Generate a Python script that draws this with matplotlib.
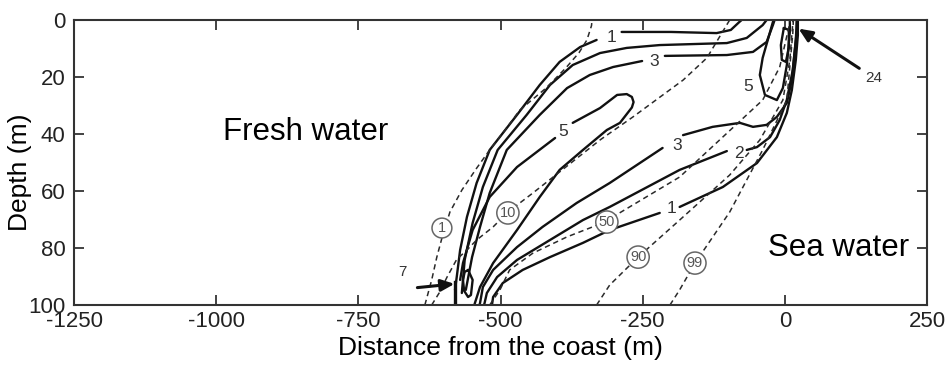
import matplotlib
matplotlib.use('Agg')
import matplotlib.pyplot as plt

plt.rcParams['font.family'] = ['Liberation Sans', 'DejaVu Sans']
plt.rcParams['axes.unicode_minus'] = False

# solid contours: distance (m), depth (m); split where the level label sits
a_left_x = [-580, -577, -571, -559, -542, -519, -471, -431, -396, -360, -331]
a_left_d = [94.7, 90.2, 80.7, 69.1, 57.2, 45.6, 33.3, 22.8, 14.7, 9.5, 7.0]
a_right_x = [-287, -200, -120, -95, -80, -76]
a_right_d = [4.2, 4.2, 4.6, 3.5, 0.7, 0]

b_x = [-568, -563, -549, -531, -505, -454, -413, -373, -325, -278, -220, -102, -67, -39, -32]
b_d = [95.8, 84.2, 71.2, 58.6, 45.6, 33.3, 22.8, 15.8, 11.6, 9.8, 8.8, 8.1, 6.3, 1.8, 0]

c_left_x = [-561, -550, -536, -519, -489, -431, -383, -343, -302, -251]
c_left_d = [94.7, 83.2, 72.6, 60.7, 45.6, 33.3, 23.9, 19.3, 16.5, 14.4]
c_right_x = [-211, -102, -56, -32, -21, -18]
c_right_d = [12.6, 12.3, 11.2, 7.7, 1.8, 0]

d_left_x = [-571, -566, -549, -519, -471, -404]
d_left_d = [91.2, 85.3, 73.7, 62.1, 51.6, 41.4]
d_right_x = [-373, -325, -295, -278, -269, -266, -269, -290, -313, -355, -396, -431, -471, -513, -536, -545, -546]
d_right_d = [36.1, 30.9, 26.3, 26.0, 27.0, 28.8, 30.7, 36.1, 38.6, 45.6, 52.6, 62.1, 73.7, 85.3, 93.7, 99.3, 100]

e_left_x = [-537, -536, -531, -513, -471, -426, -366, -308, -215]
e_left_d = [100, 99.3, 93.7, 87.7, 79.7, 72.6, 64.2, 57.2, 44.9]
e_right_x = [-179, -127, -79, -56, -32, -14, 3.5, 12.3, 17.6, 21.1, 21.1]
e_right_d = [40.4, 37.5, 36.1, 37.5, 36.8, 34.0, 29.1, 21.1, 10.5, 3.5, 0]

f_left_x = [-529, -528, -524, -506, -471, -413, -355, -308, -185, -102]
f_left_d = [100, 99.3, 95.8, 90.2, 84.2, 77.2, 70.2, 65.6, 52.6, 46.0]
f_right_x = [-67, -49, -26, -9, 3.5, 14, 19.3, 21.1]
f_right_d = [45.6, 44.6, 41.1, 35.1, 28.0, 17.5, 7.0, 0]

g_left_x = [-515, -513, -496, -461, -413, -355, -308, -220]
g_left_d = [100, 97.2, 92.3, 87.7, 83.2, 78.2, 73.7, 67.7]
g_right_x = [-185, -109, -49, -14, 3.5, 12.3, 19.3, 22.9, 22.9]
g_right_d = [65.6, 58.6, 50.2, 41.1, 32.6, 24.6, 14.0, 5.3, 0]

r5_x = [-19, -21, -39, -44, -35, -14, -3.5, 3.5, 8.8, 8.8]
r5_d = [0, 0.7, 13.3, 19.3, 26.3, 28.1, 23.9, 15.8, 4.2, 0]

n_x = [-1.8, -7, -5.3, 1.8, 7, 7, -1.8]
n_d = [2.8, 8.8, 14, 14.7, 9.8, 3.5, 2.8]

s_x = [-557, -549, -552, -557, -564, -566, -563, -557]
s_d = [87.7, 91.2, 96.5, 97.2, 95, 91.2, 88.4, 87.7]

stem_x = [-580, -580]
stem_d = [92, 100]

solid_levels = ['1', '3', '5', '3', '2', '1', '5']
solid_lab_x = [-304, -229, -390, -190, -80, -199, -65]
solid_lab_d = [6.0, 14.7, 39.3, 43.9, 46.7, 66.0, 23.5]

# dashed contours (percent)
p1_x = [-633, -621, -612, -603, -589, -568, -542, -519, -492, -466, -420, -385, -362, -348, -340, -339]
p1_d = [100, 91.2, 83.2, 76.5, 67.4, 59.7, 52.0, 45.6, 38.6, 31.6, 23.9, 16.8, 11.5, 7.0, 2.0, 0]
p10_x = [-621, -607, -594, -577, -559, -542, -513, -487, -443, -396, -325, -267, -179, -137, -97]
p10_d = [100, 95.5, 90.2, 84.0, 80.7, 77.2, 72.6, 67.4, 60.7, 53.3, 42.1, 34.0, 21.1, 13.3, 0]
p50_x = [-519, -501, -484, -443, -383, -320, -185, -39, -9, 8.8, 10]
p50_d = [100, 94.7, 87.7, 81.8, 76.1, 71.2, 55.1, 28.1, 16.5, 1.0, 0]
p90_x = [-331, -308, -258, -185, -97, -44, -3.5, 8.8, 14, 14.5]
p90_d = [100, 93.0, 83.2, 70.2, 54.4, 42.1, 28.1, 14.0, 1.0, 0]
p99_x = [-202, -185, -158, -97, -39, 3.5, 14, 15]
p99_d = [100, 94.7, 85.3, 67.4, 45.6, 28.1, 4.6, 0]

pct_labels = ['1', '10', '50', '90', '99']
pct_lab_x = [-603, -487, -313, -258, -158]
pct_lab_d = [73.0, 67.7, 70.9, 83.2, 85.3]

fig = plt.figure(figsize=(9.5, 3.66), dpi=100)
ax = fig.add_axes([0.0779, 0.1667, 0.8979, 0.7787])

solid = dict(color='#111111', lw=1.7, solid_capstyle='round')
for xs, ds in [(a_left_x, a_left_d), (a_right_x, a_right_d), (b_x, b_d),
               (c_left_x, c_left_d), (c_right_x, c_right_d),
               (d_left_x, d_left_d), (d_right_x, d_right_d),
               (e_left_x, e_left_d), (e_right_x, e_right_d),
               (f_left_x, f_left_d), (f_right_x, f_right_d),
               (g_left_x, g_left_d), (g_right_x, g_right_d),
               (r5_x, r5_d), (n_x, n_d), (s_x, s_d)]:
    ax.plot(xs, ds, **solid)
ax.plot(stem_x, stem_d, color='#111111', lw=2.4)

dashed = dict(color='#2a2a2a', lw=1.1, dashes=(3.5, 2.5))
for xs, ds in [(p1_x, p1_d), (p10_x, p10_d), (p50_x, p50_d), (p90_x, p90_d), (p99_x, p99_d)]:
    ax.plot(xs, ds, **dashed)

for lab, x, d in zip(solid_levels, solid_lab_x, solid_lab_d):
    ax.text(x, d, lab, fontsize=12.5, color='#333333', ha='center', va='center')

for lab, x, d in zip(pct_labels, pct_lab_x, pct_lab_d):
    ax.text(x, d, lab, fontsize=10.5, color='#555555', ha='center', va='center',
            bbox=dict(boxstyle='circle,pad=0.2', fc='white', ec='#666666', lw=1.1))

ax.annotate('', xy=(-576, 92.5), xytext=(-651, 94),
            arrowprops=dict(arrowstyle='-|>,head_length=0.8,head_width=0.35',
                            color='#111111', lw=2.2))
ax.text(-672, 88.4, '7', fontsize=11, color='#333333', ha='center', va='center')
ax.annotate('', xy=(20, 2.5), xytext=(135, 17.5),
            arrowprops=dict(arrowstyle='-|>,head_length=0.8,head_width=0.35',
                            color='#111111', lw=2.2))
ax.text(156, 20.2, '24', fontsize=11, color='#333333', ha='center', va='center')

ax.text(-842, 39.3, 'Fresh water', fontsize=22.5, ha='center', va='center')
ax.text(95, 80, 'Sea water', fontsize=22.5, ha='center', va='center')

ax.set_xlim(-1250, 250)
ax.set_ylim(100, 0)
ax.set_xticks([-1250, -1000, -750, -500, -250, 0, 250])
ax.set_yticks([0, 20, 40, 60, 80, 100])
ax.tick_params(direction='in', length=7, width=1.2, top=True, right=True,
               labelsize=16, colors='#222222')
ax.tick_params(axis='y', pad=6)
ax.tick_params(axis='x', pad=4)
for sp in ax.spines.values():
    sp.set_linewidth(1.5)
    sp.set_color('#333333')
ax.set_xlabel('Distance from the coast (m)', fontsize=19, labelpad=3)
ax.set_ylabel('Depth (m)', fontsize=19)
ax.yaxis.set_label_coords(-0.049, 0.467)

fig.savefig('out.png', dpi=100)
